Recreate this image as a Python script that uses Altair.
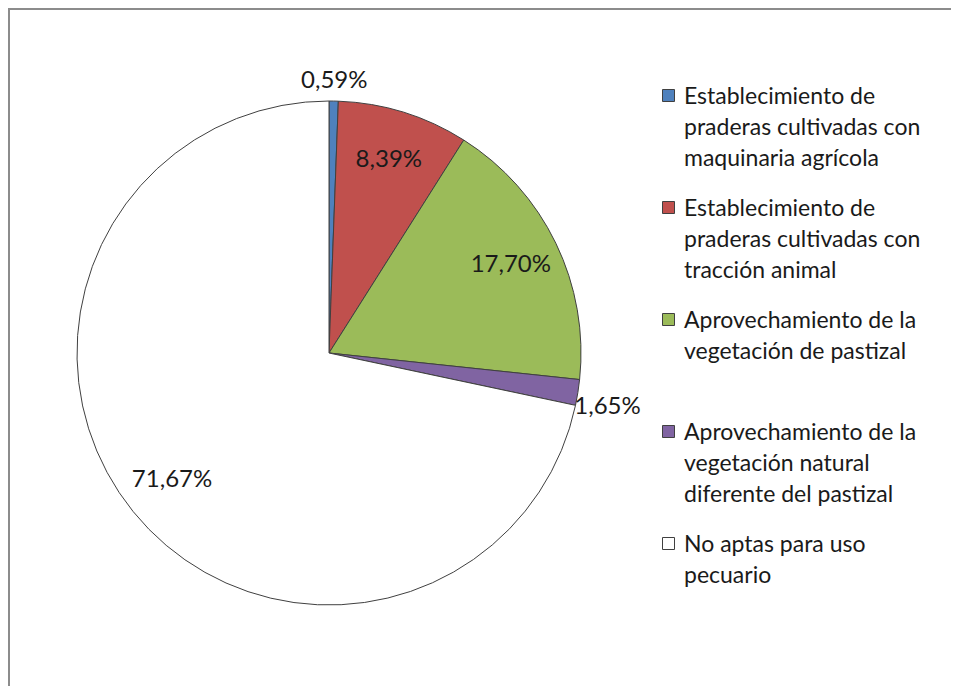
import altair as alt
import pandas as pd

categories = [
    "Establecimiento de praderas cultivadas con maquinaria agrícola",
    "Establecimiento de praderas cultivadas con tracción animal",
    "Aprovechamiento de la vegetación de pastizal",
    "Aprovechamiento de la vegetación natural diferente del pastizal",
    "No aptas para uso pecuario",
]
values = [0.59, 8.39, 17.70, 1.65, 71.67]
pct_labels = ["0,59%", "8,39%", "17,70%", "1,65%", "71,67%"]
colors = ["#4F81BD", "#C0504D", "#9BBB59", "#8064A2", "#FFFFFF"]
legend_lines = [
    ["Establecimiento de", "praderas cultivadas con", "maquinaria agrícola"],
    ["Establecimiento de", "praderas cultivadas con", "tracción animal"],
    ["Aprovechamiento de la", "vegetación de pastizal", " "],
    ["Aprovechamiento de la", "vegetación natural", "diferente del pastizal"],
    ["No aptas para uso", "pecuario"],
]

df = pd.DataFrame({
    "cat": categories,
    "value": values,
    "label": pct_labels,
    "idx": list(range(len(categories))),
})

def arr(lines):
    return "[" + ",".join("'" + l + "'" for l in lines) + "]"

expr = ""
for c, lines in zip(categories, legend_lines):
    expr += f"datum.label == '{c}' ? {arr(lines)} : "
expr += "datum.label"

FONT = "Lato"
TXT = "#1a1a1a"
CX, CY, R = 321, 345, 252

base = alt.Chart(df).encode(
    theta=alt.Theta("value:Q", stack=True),
    order=alt.Order("idx:Q"),
    x=alt.value(CX),
    y=alt.value(CY),
)

pie = base.mark_arc(outerRadius=R, stroke="#404040", strokeWidth=1).encode(
    color=alt.Color(
        "cat:N",
        scale=alt.Scale(domain=categories, range=colors),
        legend=alt.Legend(
            title=None,
            orient="none",
            legendX=649,
            legendY=76,
            labelExpr=expr,
            labelFont=FONT,
            labelFontSize=23,
            labelColor=TXT,
            labelLimit=400,
            labelBaseline="top",
            symbolType="square",
            symbolSize=144,
            symbolStrokeColor="#404040",
            symbolStrokeWidth=1,
            labelOffset=4,
            rowPadding=25,
            padding=0,
        ),
    )
)

inside = base.mark_text(
    radius=202, font=FONT, fontSize=24, color=TXT
).encode(text=alt.condition("datum.value > 5", "label:N", alt.value("")))

outside = base.mark_text(
    radius=282, dy=10, font=FONT, fontSize=24, color=TXT
).encode(text=alt.condition("datum.value <= 5", "label:N", alt.value("")))

one = pd.DataFrame({"a": [0]})
left_rule = alt.Chart(one).mark_rule(stroke="#8c8c8c", strokeWidth=2).encode(
    x=alt.value(1), y=alt.value(0), y2=alt.value(1500)
)
top_rule = alt.Chart(one).mark_rule(stroke="#8c8c8c", strokeWidth=2).encode(
    y=alt.value(1), x=alt.value(0), x2=alt.value(1500)
)

chart = alt.layer(left_rule, top_rule, pie, inside, outside).properties(
    width=943, height=678, padding=0, autosize=alt.AutoSizeParams(type="none")
).configure(style={"guide-label": {"lineHeight": 31, "dy": -10}}).configure_view(stroke=None)

chart.save("out.html", embed_options={"renderer": "svg", "actions": False})
